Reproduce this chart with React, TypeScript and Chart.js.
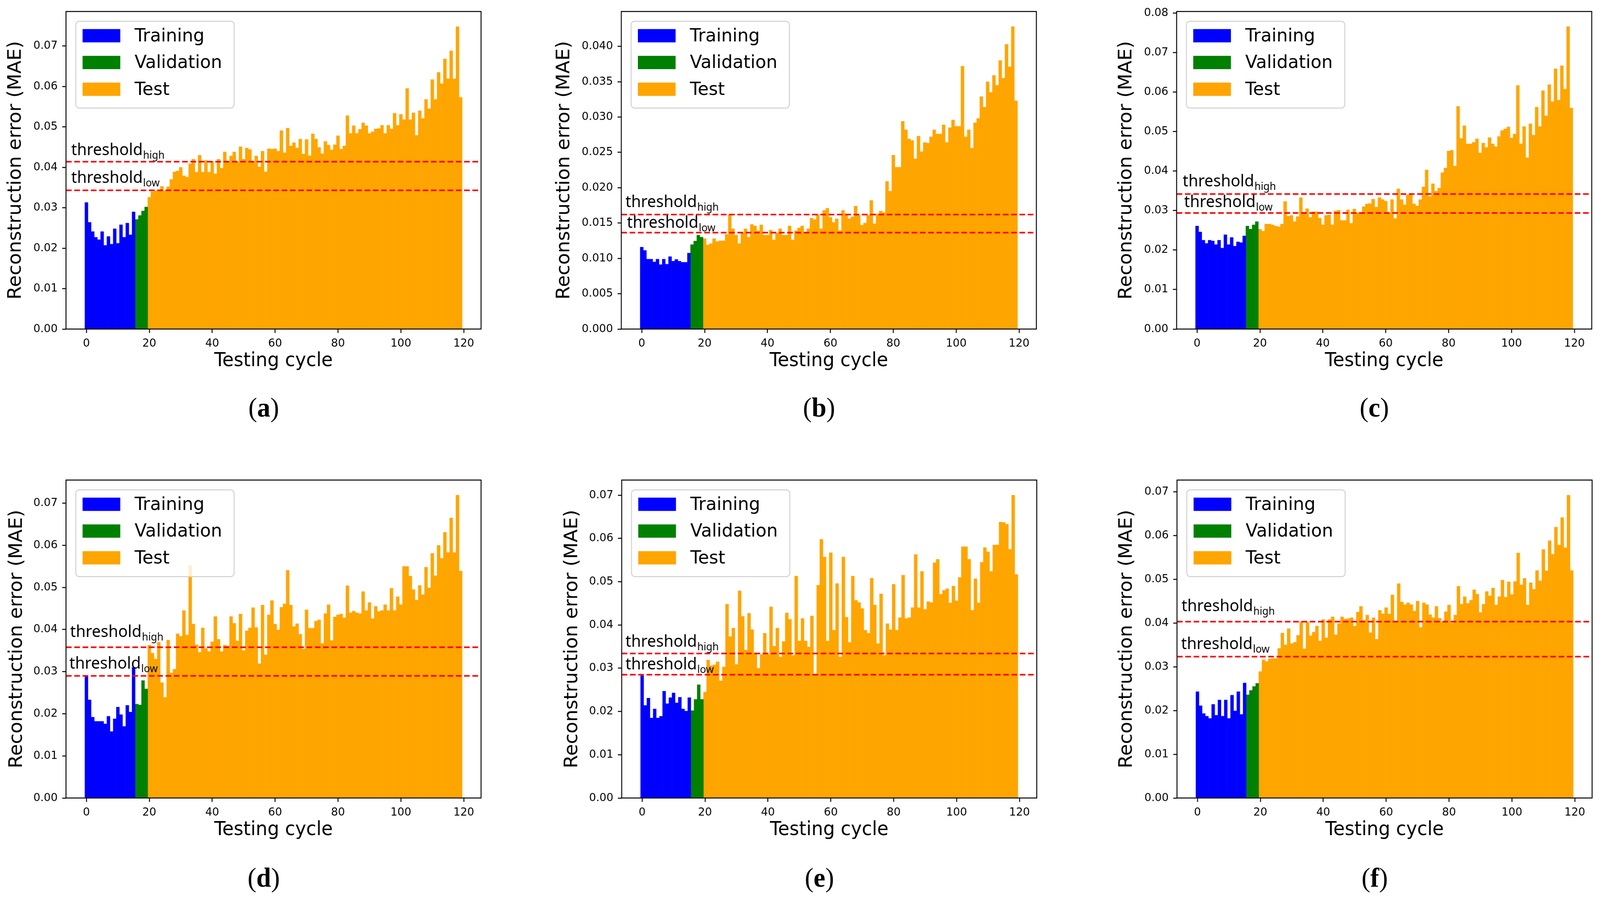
import { useEffect, useRef, useState } from 'react';
import { Chart, registerables } from 'chart.js';

Chart.register(...registerables);
Chart.defaults.font.family = 'DejaVu Sans';
Chart.defaults.color = '#000';

// ---------- data (reconstruction error, MAE) ----------
// cycles 0-15 training, 16-19 validation, 20-119 test
const trainA = [0.0313, 0.0264, 0.0241, 0.0227, 0.0221, 0.0241, 0.0207, 0.0229, 0.0210, 0.0248, 0.0212, 0.0258, 0.0227, 0.0262, 0.0233, 0.0290];
const valA = [0.0271, 0.0281, 0.0292, 0.0302];
const testA = [
  0.0326, 0.0340, 0.0342, 0.0342, 0.0353, 0.0342, 0.0352, 0.0370, 0.0389, 0.0391,
  0.0400, 0.0379, 0.0376, 0.0409, 0.0420, 0.0388, 0.0430, 0.0388, 0.0417, 0.0388,
  0.0414, 0.0384, 0.0420, 0.0398, 0.0438, 0.0414, 0.0428, 0.0438, 0.0414, 0.0451,
  0.0420, 0.0448, 0.0444, 0.0414, 0.0428, 0.0401, 0.0440, 0.0389, 0.0446, 0.0445,
  0.0446, 0.0440, 0.0491, 0.0436, 0.0497, 0.0453, 0.0461, 0.0448, 0.0470, 0.0433,
  0.0469, 0.0429, 0.0483, 0.0470, 0.0449, 0.0434, 0.0464, 0.0455, 0.0443, 0.0456,
  0.0478, 0.0445, 0.0453, 0.0528, 0.0484, 0.0503, 0.0484, 0.0494, 0.0510, 0.0503,
  0.0484, 0.0488, 0.0495, 0.0496, 0.0504, 0.0484, 0.0504, 0.0495, 0.0534, 0.0504,
  0.0531, 0.0518, 0.0595, 0.0518, 0.0535, 0.0479, 0.0540, 0.0521, 0.0568, 0.0545,
  0.0617, 0.0568, 0.0635, 0.0607, 0.0668, 0.0619, 0.0688, 0.0619, 0.0748, 0.0573,
];
const thresholdsA = [0.0414, 0.0343];

const trainB = [0.01160, 0.01112, 0.00990, 0.00990, 0.00950, 0.00990, 0.00912, 0.00990, 0.00918, 0.01025, 0.00960, 0.00985, 0.00960, 0.00945, 0.00945, 0.01075];
const valB = [0.01195, 0.01245, 0.01330, 0.01300];
const testB = [
  0.01280, 0.01190, 0.01210, 0.01280, 0.01240, 0.01250, 0.01250, 0.01340, 0.01620, 0.01420,
  0.01330, 0.01210, 0.01360, 0.01420, 0.01300, 0.01480, 0.01460, 0.01390, 0.01475, 0.01330,
  0.01330, 0.01400, 0.01260, 0.01360, 0.01420, 0.01330, 0.01330, 0.01460, 0.01260, 0.01390,
  0.01430, 0.01460, 0.01360, 0.01420, 0.01570, 0.01550, 0.01620, 0.01420, 0.01680, 0.01710,
  0.01580, 0.01510, 0.01560, 0.01390, 0.01680, 0.01630, 0.01560, 0.01590, 0.01740, 0.01610,
  0.01470, 0.01500, 0.01610, 0.01820, 0.01490, 0.01630, 0.01670, 0.01650, 0.02090, 0.01950,
  0.02460, 0.02290, 0.02290, 0.02940, 0.02820, 0.02690, 0.02670, 0.02410, 0.02730, 0.02510,
  0.02640, 0.02630, 0.02720, 0.02820, 0.02760, 0.02760, 0.02890, 0.02640, 0.02850, 0.02960,
  0.02870, 0.02870, 0.03720, 0.02720, 0.02820, 0.02560, 0.02920, 0.02980, 0.03290, 0.03140,
  0.03500, 0.03350, 0.03590, 0.03450, 0.03800, 0.03550, 0.04030, 0.03710, 0.04280, 0.03230,
];
const thresholdsB = [0.0162, 0.01365];

const trainC = [0.0261, 0.0246, 0.0225, 0.0217, 0.0225, 0.0223, 0.0214, 0.0225, 0.0205, 0.0239, 0.0214, 0.0232, 0.0210, 0.0221, 0.0219, 0.0236];
const valC = [0.0261, 0.0253, 0.0264, 0.0272];
const testC = [
  0.0253, 0.0248, 0.0266, 0.0266, 0.0264, 0.0261, 0.0259, 0.0266, 0.0323, 0.0286,
  0.0288, 0.0272, 0.0285, 0.0333, 0.0296, 0.0305, 0.0283, 0.0297, 0.0297, 0.0281,
  0.0264, 0.0288, 0.0289, 0.0264, 0.0299, 0.0301, 0.0275, 0.0275, 0.0302, 0.0268,
  0.0304, 0.0295, 0.0292, 0.0310, 0.0317, 0.0318, 0.0329, 0.0309, 0.0333, 0.0328,
  0.0324, 0.0294, 0.0328, 0.0280, 0.0355, 0.0328, 0.0315, 0.0340, 0.0340, 0.0317,
  0.0312, 0.0328, 0.0360, 0.0403, 0.0336, 0.0368, 0.0349, 0.0357, 0.0396, 0.0408,
  0.0451, 0.0453, 0.0413, 0.0564, 0.0483, 0.0515, 0.0469, 0.0469, 0.0473, 0.0482,
  0.0446, 0.0471, 0.0460, 0.0485, 0.0469, 0.0462, 0.0488, 0.0503, 0.0507, 0.0512,
  0.0484, 0.0494, 0.0617, 0.0469, 0.0513, 0.0434, 0.0520, 0.0491, 0.0562, 0.0513,
  0.0604, 0.0540, 0.0619, 0.0576, 0.0659, 0.0580, 0.0667, 0.0608, 0.0766, 0.0560,
];
const thresholdsC = [0.0342, 0.0294];

const trainD = [0.0290, 0.0233, 0.0192, 0.0182, 0.0182, 0.0182, 0.0176, 0.0194, 0.0158, 0.0188, 0.0216, 0.0198, 0.0170, 0.0220, 0.0204, 0.0310];
const valD = [0.0223, 0.0221, 0.0279, 0.0259];
const testD = [
  0.0363, 0.0344, 0.0330, 0.0370, 0.0274, 0.0239, 0.0375, 0.0297, 0.0306, 0.0390,
  0.0384, 0.0445, 0.0387, 0.0552, 0.0413, 0.0364, 0.0346, 0.0404, 0.0355, 0.0348,
  0.0371, 0.0431, 0.0377, 0.0348, 0.0363, 0.0361, 0.0431, 0.0415, 0.0373, 0.0437,
  0.0350, 0.0397, 0.0404, 0.0452, 0.0405, 0.0319, 0.0458, 0.0340, 0.0435, 0.0469,
  0.0413, 0.0399, 0.0453, 0.0461, 0.0541, 0.0458, 0.0407, 0.0414, 0.0389, 0.0354,
  0.0447, 0.0403, 0.0403, 0.0420, 0.0423, 0.0367, 0.0438, 0.0459, 0.0374, 0.0430,
  0.0435, 0.0437, 0.0428, 0.0504, 0.0440, 0.0444, 0.0440, 0.0438, 0.0490, 0.0445,
  0.0464, 0.0426, 0.0455, 0.0443, 0.0445, 0.0459, 0.0445, 0.0498, 0.0445, 0.0478,
  0.0459, 0.0550, 0.0550, 0.0527, 0.0495, 0.0470, 0.0505, 0.0483, 0.0548, 0.0499,
  0.0581, 0.0528, 0.0600, 0.0569, 0.0631, 0.0583, 0.0665, 0.0583, 0.0719, 0.0539,
];
const thresholdsD = [0.0358, 0.0290];

const trainE = [0.0283, 0.0214, 0.0231, 0.0185, 0.0206, 0.0185, 0.0189, 0.0247, 0.0218, 0.0232, 0.0243, 0.0220, 0.0233, 0.0206, 0.0201, 0.0232];
const valE = [0.0202, 0.0228, 0.0262, 0.0228];
const testE = [
  0.0245, 0.0319, 0.0306, 0.0308, 0.0315, 0.0271, 0.0303, 0.0448, 0.0373, 0.0393,
  0.0309, 0.0479, 0.0420, 0.0342, 0.0427, 0.0389, 0.0335, 0.0300, 0.0332, 0.0381,
  0.0332, 0.0442, 0.0351, 0.0393, 0.0326, 0.0362, 0.0428, 0.0413, 0.0330, 0.0513,
  0.0363, 0.0415, 0.0363, 0.0349, 0.0421, 0.0285, 0.0492, 0.0598, 0.0557, 0.0363,
  0.0567, 0.0388, 0.0496, 0.0326, 0.0557, 0.0418, 0.0360, 0.0513, 0.0457, 0.0452,
  0.0438, 0.0388, 0.0381, 0.0508, 0.0446, 0.0357, 0.0472, 0.0330, 0.0403, 0.0389,
  0.0494, 0.0388, 0.0417, 0.0515, 0.0415, 0.0417, 0.0440, 0.0563, 0.0440, 0.0524,
  0.0436, 0.0454, 0.0452, 0.0544, 0.0552, 0.0471, 0.0480, 0.0484, 0.0451, 0.0490,
  0.0456, 0.0510, 0.0581, 0.0581, 0.0552, 0.0434, 0.0507, 0.0451, 0.0545, 0.0579,
  0.0569, 0.0524, 0.0585, 0.0585, 0.0638, 0.0637, 0.0633, 0.0575, 0.0700, 0.0517,
];
const thresholdsE = [0.0334, 0.0285];

const trainF = [0.0243, 0.0211, 0.0193, 0.0187, 0.0182, 0.0214, 0.0189, 0.0224, 0.0187, 0.0224, 0.0182, 0.0235, 0.0199, 0.0243, 0.0191, 0.0263];
const valF = [0.0236, 0.0246, 0.0255, 0.0262];
const testF = [
  0.0289, 0.0316, 0.0312, 0.0318, 0.0319, 0.0319, 0.0342, 0.0377, 0.0350, 0.0387,
  0.0353, 0.0356, 0.0372, 0.0403, 0.0341, 0.0402, 0.0371, 0.0379, 0.0393, 0.0359,
  0.0408, 0.0366, 0.0408, 0.0414, 0.0373, 0.0399, 0.0414, 0.0409, 0.0410, 0.0412,
  0.0393, 0.0425, 0.0438, 0.0406, 0.0418, 0.0378, 0.0412, 0.0363, 0.0429, 0.0421,
  0.0435, 0.0421, 0.0464, 0.0405, 0.0490, 0.0448, 0.0442, 0.0446, 0.0442, 0.0427,
  0.0450, 0.0390, 0.0446, 0.0442, 0.0419, 0.0412, 0.0438, 0.0411, 0.0402, 0.0426,
  0.0441, 0.0400, 0.0418, 0.0484, 0.0443, 0.0460, 0.0445, 0.0452, 0.0476, 0.0466,
  0.0424, 0.0443, 0.0472, 0.0462, 0.0480, 0.0441, 0.0460, 0.0498, 0.0459, 0.0494,
  0.0465, 0.0495, 0.0560, 0.0487, 0.0502, 0.0441, 0.0492, 0.0477, 0.0520, 0.0496,
  0.0568, 0.0519, 0.0588, 0.0557, 0.0619, 0.0578, 0.0641, 0.0572, 0.0692, 0.0520,
];
const thresholdsF = [0.0403, 0.0323];

const TRAIN_START = 0;
const VAL_START = 16;
const TEST_START = 20;
const X_MIN = -6.5;
const X_MAX = 125.5;

// ---------- layout ----------
const PAGE_W = 4244;
const PAGE_H = 2303;
const Y_W = 190;
const X_H = 112;
const PAD_TOP = 25;
const PAD_RIGHT = 30;
const PLOT_W = 1101;

const panels = [
  { tag: 'a', train: trainA, val: valA, test: testA, th: thresholdsA, step: 0.01, digits: 2, left: 175, top: 25, h: 817, titlePad: 28, hi: [14, 17], lo: [14, 19] },
  { tag: 'b', train: trainB, val: valB, test: testB, th: thresholdsB, step: 0.005, digits: 3, left: 1648, top: 25, h: 817, titlePad: 10, hi: [11, 19], lo: [15, 12] },
  { tag: 'c', train: trainC, val: valC, test: testC, th: thresholdsC, step: 0.01, digits: 2, left: 3121, top: 25, h: 817, titlePad: 28, hi: [16, 19], lo: [20, 15] },
  { tag: 'd', train: trainD, val: valD, test: testD, th: thresholdsD, step: 0.01, digits: 2, left: 175, top: 1224, h: 818, titlePad: 31, hi: [11, 26], lo: [9, 18] },
  { tag: 'e', train: trainE, val: valE, test: testE, th: thresholdsE, step: 0.01, digits: 2, left: 1649, top: 1224, h: 818, titlePad: 30, hi: [10, 17], lo: [10, 14] },
  { tag: 'f', train: trainF, val: valF, test: testF, th: thresholdsF, step: 0.01, digits: 2, left: 3122, top: 1224, h: 818, titlePad: 28, hi: [12, 27], lo: [11, 19] },
];

const captionY = [1043, 2246];

const decor = (p: any) => ({
  id: 'decor',
  afterDatasetsDraw(chart: any) {
    const { ctx, chartArea: a, scales } = chart;
    ctx.save();
    // axes frame
    ctx.strokeStyle = '#000';
    ctx.lineWidth = 2.5;
    ctx.strokeRect(a.left, a.top, a.right - a.left, a.bottom - a.top);

    // threshold labels
    const label = (value: number, sub: string, dx: number, gap: number) => {
      const y = scales.y.getPixelForValue(value) - gap;
      const x = a.left + dx;
      ctx.fillStyle = '#000';
      ctx.textAlign = 'left';
      ctx.textBaseline = 'alphabetic';
      ctx.font = '42px "Noto Sans"';
      ctx.fillText('threshold', x, y);
      const w = ctx.measureText('threshold').width;
      ctx.font = '27px "Noto Sans"';
      ctx.fillText(sub, x + w + 1, y + 9);
    };
    label(p.th[0], 'high', p.hi[0], p.hi[1]);
    label(p.th[1], 'low', p.lo[0], p.lo[1]);

    // legend
    const fx = a.left + 26;
    const fy = a.top + 25;
    const fw = 420;
    const fh = 222;
    const r = 9;
    ctx.beginPath();
    ctx.moveTo(fx + r, fy);
    ctx.lineTo(fx + fw - r, fy);
    ctx.arcTo(fx + fw, fy, fx + fw, fy + r, r);
    ctx.lineTo(fx + fw, fy + fh - r);
    ctx.arcTo(fx + fw, fy + fh, fx + fw - r, fy + fh, r);
    ctx.lineTo(fx + r, fy + fh);
    ctx.arcTo(fx, fy + fh, fx, fy + fh - r, r);
    ctx.lineTo(fx, fy + r);
    ctx.arcTo(fx, fy, fx + r, fy, r);
    ctx.closePath();
    ctx.fillStyle = 'rgba(255,255,255,0.8)';
    ctx.fill();
    ctx.strokeStyle = '#d0d0d0';
    ctx.lineWidth = 2.5;
    ctx.stroke();

    const bars = chart.data.datasets.filter((d: any) => d.type !== 'line');
    const rows = [37, 105.5, 174];
    bars.forEach((d: any, i: number) => {
      const cy = fy + rows[i];
      ctx.fillStyle = d.backgroundColor;
      ctx.fillRect(fx + 18, cy - 17, 100, 34);
      ctx.fillStyle = '#000';
      ctx.font = '47px "DejaVu Sans"';
      ctx.textBaseline = 'middle';
      ctx.fillText(d.label, fx + 156, cy + 2);
    });
    ctx.restore();
  },
});

const tickGrid = {
  display: true,
  drawOnChartArea: false,
  drawTicks: true,
  tickLength: 10,
  tickWidth: 2.5,
  tickColor: '#000',
  offset: false,
};

function Panel({ p }: { p: any }) {
  const ref = useRef<HTMLCanvasElement>(null);

  useEffect(() => {
    if (ref.current == null) return () => {};
    const yMax = Math.max(...p.train, ...p.val, ...p.test) * 1.05;
    const thLine = (v: number) => ({
      type: 'line',
      label: 'threshold',
      data: [{ x: X_MIN, y: v }, { x: X_MAX, y: v }],
      borderColor: '#ff0000',
      borderWidth: 4,
      borderDash: [15, 7],
      pointRadius: 0,
      fill: false,
      order: 0,
    });
    const barSet = (label: string, values: number[], start: number, color: string) => ({
      type: 'bar',
      label,
      data: values.map((y, i) => ({ x: start + i, y })),
      backgroundColor: color,
      borderWidth: 0,
      grouped: false,
      barPercentage: 1,
      categoryPercentage: 1,
      order: 1,
    });

    const chart = new Chart(ref.current, {
      type: 'bar',
      data: {
        datasets: [
          thLine(p.th[0]),
          thLine(p.th[1]),
          barSet('Training', p.train, TRAIN_START, '#0000ff'),
          barSet('Validation', p.val, VAL_START, '#008000'),
          barSet('Test', p.test, TEST_START, '#ffa500'),
        ],
      } as any,
      options: {
        animation: false,
        responsive: true,
        maintainAspectRatio: false,
        layout: { padding: { top: PAD_TOP, right: PAD_RIGHT, left: 0, bottom: 0 } },
        plugins: { legend: { display: false }, tooltip: { enabled: false } },
        scales: {
          x: {
            type: 'linear',
            min: X_MIN,
            max: X_MAX,
            offset: false,
            grid: tickGrid,
            border: { display: false },
            ticks: { stepSize: 20, includeBounds: false, font: { size: 29 }, color: '#000', padding: 10, maxRotation: 0, autoSkip: false },
            title: { display: true, text: 'Testing cycle', font: { size: 49 }, color: '#000', padding: { top: 0, bottom: 0 } },
            afterFit: (s: any) => { s.height = X_H; },
          },
          y: {
            type: 'linear',
            min: 0,
            max: yMax,
            grid: tickGrid,
            border: { display: false },
            ticks: {
              stepSize: p.step,
              includeBounds: false,
              font: { size: 29 },
              color: '#000',
              padding: 12,
              callback: (v: any) => Number(v).toFixed(p.digits),
            },
            title: { display: true, text: 'Reconstruction error (MAE)', font: { size: 49 }, color: '#000', padding: { top: p.titlePad, bottom: 0 } },
            afterFit: (s: any) => { s.width = Y_W; },
          },
        },
      } as any,
      plugins: [decor(p)],
    });
    return () => {
      chart.destroy();
    };
  }, [p]);

  return (
    <div
      style={{
        position: 'absolute',
        left: p.left - Y_W,
        top: p.top - PAD_TOP,
        width: Y_W + PLOT_W + PAD_RIGHT,
        height: PAD_TOP + p.h + X_H,
      }}
    >
      <canvas ref={ref} />
    </div>
  );
}

export default function App() {
  // the browser may cap the viewport (e.g. 4096 wide): stretch the figure onto what we get
  const [fit] = useState(() => ({
    x: Math.min(1, window.innerWidth / PAGE_W),
    y: Math.min(1, window.innerHeight / PAGE_H),
  }));
  return (
    <div
      style={{
        position: 'absolute',
        left: 0,
        top: 0,
        width: PAGE_W,
        height: PAGE_H,
        background: '#fff',
        overflow: 'hidden',
        transform: `scale(${fit.x}, ${fit.y})`,
        transformOrigin: '0 0',
      }}
    >
      {panels.map((p) => (
        <Panel key={p.tag} p={p} />
      ))}
      {panels.map((p, i) => (
        <div
          key={'cap' + p.tag}
          style={{
            position: 'absolute',
            left: p.left + PLOT_W / 2 - 26,
            top: captionY[Math.floor(i / 3)],
            transform: 'translate(-50%, -50%)',
            fontFamily: '"Liberation Serif", serif',
            fontSize: 70,
            lineHeight: 1,
            color: '#000',
            whiteSpace: 'nowrap',
          }}
        >
          (<b>{p.tag}</b>)
        </div>
      ))}
    </div>
  );
}
